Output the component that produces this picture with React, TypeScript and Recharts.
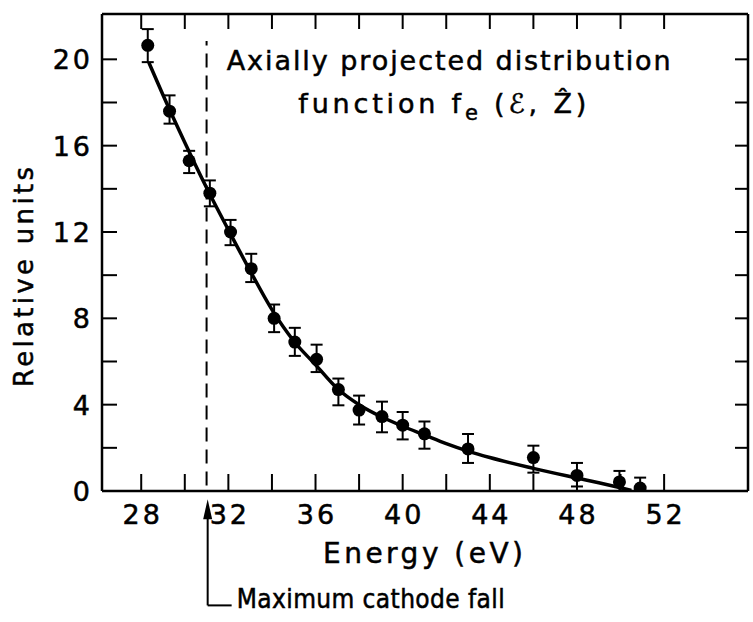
import React from 'react';
import {
  ComposedChart,
  Line,
  Scatter,
  ErrorBar,
  XAxis,
  YAxis,
  ReferenceLine,
  ReferenceDot,
  Customized,
} from 'recharts';

// Measured points (energy in eV, relative units) with asymmetric error bars
const energies = [28.3, 29.3, 30.2, 31.15, 32.1, 33.05, 34.1, 35.05, 36.05, 37.05, 38.0, 39.05, 40.0, 41.0, 43.0, 46.0, 48.0, 49.95, 50.9];
const values = [20.65, 17.6, 15.3, 13.8, 12.0, 10.3, 8.0, 6.9, 6.1, 4.7, 3.75, 3.45, 3.05, 2.65, 1.95, 1.55, 0.72, 0.42, 0.14];
const errLow = [0.78, 0.58, 0.57, 0.61, 0.61, 0.62, 0.64, 0.64, 0.59, 0.73, 0.67, 0.73, 0.66, 0.69, 0.65, 0.7, 0.51, 0.42, 0.14];
const errHigh = [0.75, 0.73, 0.46, 0.59, 0.56, 0.69, 0.64, 0.66, 0.68, 0.51, 0.67, 0.69, 0.61, 0.57, 0.69, 0.55, 0.58, 0.51, 0.48];

// Smooth fitted curve
const curveE = [28.35, 29, 30, 31, 32, 33, 34, 35, 36, 37, 38, 39, 40, 41, 42, 43, 44, 46, 48, 49, 50, 50.5];
const curveV = [19.85, 18.35, 16.15, 14.05, 12.1, 10.2, 8.4, 6.95, 5.85, 4.75, 4.0, 3.45, 3.0, 2.6, 2.2, 1.85, 1.55, 1.05, 0.6, 0.38, 0.15, 0.03];

// Axes
const xTicks = [28, 30, 32, 34, 36, 38, 40, 42, 44, 46, 48, 50, 52];
const xLabels = [28, 32, 36, 40, 44, 48, 52];
const yTicks = [0, 2, 4, 6, 8, 10, 12, 14, 16, 18, 20];
const yLabels = [0, 4, 8, 12, 16, 20];
const xDomain = [26.2, 55.85];
const yDomain = [0, 22.1];
const cathodeFall = 31.05;

const points = energies.map((x, i) => ({ x, y: values[i], err: [errLow[i], errHigh[i]] }));
const curve = curveE.map((x, i) => ({ x, y: curveV[i] }));

const FONT = 'DejaVu Sans';
const INK = '#000';
const TXT = { fontFamily: FONT, fill: INK, stroke: INK, strokeWidth: 0.5 };

const BottomTick = (props: any) => {
  const { x, y, payload } = props;
  const v = payload.value;
  return (
    <g>
      <line x1={x} x2={x} y1={y} y2={y - 17} stroke={INK} strokeWidth={2} />
      {xLabels.includes(v) && (
        <text x={x + 1.5} y={y + 33} textAnchor="middle" fontSize={27} letterSpacing={3} {...TXT}>
          {v}
        </text>
      )}
    </g>
  );
};

const TopTick = (props: any) => {
  const { x, y } = props;
  return <line x1={x} x2={x} y1={y} y2={y + 15} stroke={INK} strokeWidth={2} />;
};

const LeftTick = (props: any) => {
  const { x, y, payload } = props;
  const v = payload.value;
  return (
    <g>
      <line x1={x} x2={x + 15} y1={y} y2={y} stroke={INK} strokeWidth={2} />
      {yLabels.includes(v) && (
        <text x={x - 9} y={y + 10} textAnchor="end" fontSize={27} letterSpacing={3} {...TXT}>
          {v}
        </text>
      )}
    </g>
  );
};

const RightTick = (props: any) => {
  const { x, y } = props;
  return <line x1={x} x2={x - 13} y1={y} y2={y} stroke={INK} strokeWidth={2} />;
};

const DotShape = (props: any) => <circle cx={props.cx} cy={props.cy} r={6.5} fill={INK} />;

const ArrowHead = (props: any) => {
  const { cx, cy } = props;
  return <path d={`M${cx},${cy} L${cx - 4.5},${cy + 20} L${cx + 4.5},${cy + 20} Z`} fill={INK} />;
};

const Annotations = () => (
  <g {...TXT}>
    <text x={226.7} y={70} fontSize={27} textLength={444} lengthAdjust="spacing">
      Axially projected distribution
    </text>
    <text x={298.3} y={112.7} fontSize={27} textLength={288} lengthAdjust="spacing">
      function f
      <tspan fontSize={21} dy={7}>e</tspan>
      <tspan dy={-7}> (ℰ, Ẑ)</tspan>
    </text>
    <text
      x={33}
      y={277}
      fontSize={26}
      textAnchor="middle"
      textLength={220}
      lengthAdjust="spacing"
      transform="rotate(-90, 33, 277)"
    >
      Relative units
    </text>
    <text x={423} y={563} fontSize={28} textAnchor="middle" textLength={200} lengthAdjust="spacing">
      Energy (eV)
    </text>
    <text
      x={236.7}
      y={608}
      fontSize={26}
      fontFamily="DejaVu Sans Condensed, DejaVu Sans"
      textLength={268}
      lengthAdjust="spacing"
    >
      Maximum cathode fall
    </text>
  </g>
);

export default function App() {
  return (
    <div style={{ position: 'absolute', left: 0, top: 0, background: '#fff' }}>
      <ComposedChart width={753} height={622} margin={{ top: 13, right: 4, left: 0, bottom: 0 }}>
        <XAxis
          dataKey="x"
          type="number"
          domain={xDomain}
          allowDataOverflow
          ticks={xTicks}
          interval={0}
          height={131}
          tickSize={0}
          tickMargin={0}
          tickLine={false}
          tick={<BottomTick />}
          axisLine={{ stroke: INK, strokeWidth: 2.5 }}
        />
        <XAxis
          xAxisId="top"
          orientation="top"
          dataKey="x"
          type="number"
          domain={xDomain}
          allowDataOverflow
          ticks={xTicks}
          interval={0}
          height={1}
          tickSize={0}
          tickMargin={0}
          tickLine={false}
          tick={<TopTick />}
          axisLine={{ stroke: INK, strokeWidth: 2.5 }}
        />
        <YAxis
          dataKey="y"
          type="number"
          domain={yDomain}
          allowDataOverflow
          ticks={yTicks}
          interval={0}
          width={102}
          tickSize={0}
          tickMargin={0}
          tickLine={false}
          tick={<LeftTick />}
          axisLine={{ stroke: INK, strokeWidth: 2.5 }}
        />
        <YAxis
          yAxisId="right"
          orientation="right"
          dataKey="y"
          type="number"
          domain={yDomain}
          allowDataOverflow
          ticks={yTicks}
          interval={0}
          width={1}
          tickSize={0}
          tickMargin={0}
          tickLine={false}
          tick={<RightTick />}
          axisLine={{ stroke: INK, strokeWidth: 2.5 }}
        />
        <ReferenceLine
          segment={[{ x: 31, y: 0.26 }, { x: 31, y: 20.85 }]}
          stroke={INK}
          strokeWidth={2}
          strokeDasharray="14 8"
          ifOverflow="visible"
        />
        <ReferenceLine
          segment={[{ x: cathodeFall, y: -0.9 }, { x: cathodeFall, y: -5.3 }]}
          stroke={INK}
          strokeWidth={2}
          ifOverflow="visible"
        />
        <ReferenceLine
          segment={[{ x: cathodeFall, y: -5.3 }, { x: 32.15, y: -5.3 }]}
          stroke={INK}
          strokeWidth={2}
          ifOverflow="visible"
        />
        <ReferenceDot x={cathodeFall} y={-0.38} r={4} ifOverflow="visible" shape={<ArrowHead />} />
        {/* invisible companion series that binds the mirrored top/right frame axes */}
        <Line
          data={curve}
          dataKey="y"
          xAxisId="top"
          yAxisId="right"
          stroke="none"
          dot={false}
          activeDot={false}
          legendType="none"
          isAnimationActive={false}
        />
        <Line
          data={curve}
          dataKey="y"
          type="monotone"
          stroke={INK}
          strokeWidth={3.5}
          dot={false}
          activeDot={false}
          isAnimationActive={false}
        />
        <Scatter data={points} dataKey="y" fill={INK} shape={<DotShape />} isAnimationActive={false}>
          <ErrorBar dataKey="err" direction="y" width={6} stroke={INK} strokeWidth={2} isAnimationActive={false} />
        </Scatter>
        <Customized component={<Annotations />} />
      </ComposedChart>
    </div>
  );
}
